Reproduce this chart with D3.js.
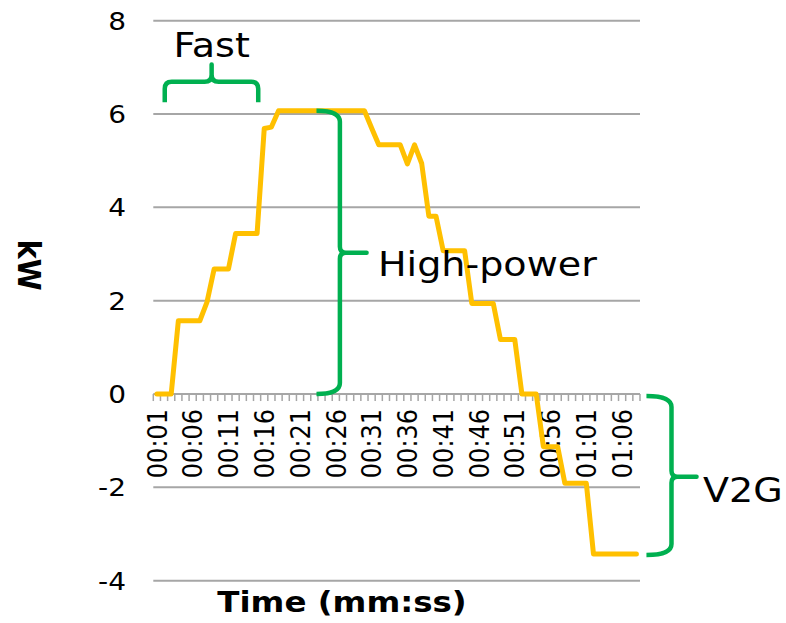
<!DOCTYPE html>
<html>
<head>
<meta charset="utf-8">
<script src="https://cdn.jsdelivr.net/npm/d3@7"></script>
<style>
  html, body { margin: 0; padding: 0; background: #ffffff; }
  svg { display: block; font-family: "DejaVu Sans", Verdana, sans-serif; }
</style>
</head>
<body>
<svg id="chart" width="786" height="623"></svg>
<script>
// One sample per second, 00:01 .. 01:08
const categories = [
  "00:01","00:02","00:03","00:04","00:05","00:06","00:07","00:08","00:09","00:10",
  "00:11","00:12","00:13","00:14","00:15","00:16","00:17","00:18","00:19","00:20",
  "00:21","00:22","00:23","00:24","00:25","00:26","00:27","00:28","00:29","00:30",
  "00:31","00:32","00:33","00:34","00:35","00:36","00:37","00:38","00:39","00:40",
  "00:41","00:42","00:43","00:44","00:45","00:46","00:47","00:48","00:49","00:50",
  "00:51","00:52","00:53","00:54","00:55","00:56","00:57","00:58","00:59","01:00",
  "01:01","01:02","01:03","01:04","01:05","01:06","01:07","01:08"
];

// Charging power in kW (negative = vehicle-to-grid discharge)
const powerKW = [
  0, 0, 0, 1.57, 1.57, 1.57, 1.57, 1.97, 2.68, 2.68,
  2.68, 3.44, 3.44, 3.44, 3.44, 5.69, 5.72, 6.07, 6.07, 6.07,
  6.07, 6.07, 6.07, 6.07, 6.07, 6.07, 6.07, 6.07, 6.07, 6.07,
  5.7, 5.34, 5.34, 5.34, 5.34, 4.93, 5.34, 4.94, 3.81, 3.81,
  3.07, 3.07, 3.07, 3.07, 1.94, 1.94, 1.94, 1.94, 1.17, 1.17,
  1.17, 0, 0, 0, -1.13, -1.13, -1.13, -1.91, -1.91, -1.91,
  -1.91, -3.43, -3.43, -3.43, -3.43, -3.43, -3.43, -3.43
];

const xTickLabels = ["00:01","00:06","00:11","00:16","00:21","00:26","00:31",
                     "00:36","00:41","00:46","00:51","00:56","01:01","01:06"];
const yTicks = [-4, -2, 0, 2, 4, 6, 8];

// Phase annotations
const phaseNames = ["Fast", "High-power", "V2G"];

const svg = d3.select("#chart");
const plotLeft = 153.3, plotRight = 640, plotTop = 20.7, plotBottom = 580.7;
const SX = 1.12;           // horizontal text stretch
const GRID = "#a6a6a6";
const GREEN = "#00b050";

const x = d3.scaleBand().domain(categories).range([plotLeft, plotRight]).padding(0);
const xu = d3.scaleLinear().domain([0, categories.length]).range([plotLeft, plotRight]); // category units
const y = d3.scaleLinear().domain([-4, 8]).range([plotBottom, plotTop]);
const cx = c => x(c) + x.bandwidth() / 2;

// Horizontal gridlines
svg.append("g").selectAll("line").data(yTicks).join("line")
  .attr("x1", plotLeft).attr("x2", plotRight)
  .attr("y1", d => y(d)).attr("y2", d => y(d))
  .attr("stroke", GRID).attr("stroke-width", 2);

// Y tick labels
svg.append("g").selectAll("text").data(yTicks).join("text")
  .attr("transform", d => `translate(126,${y(d)}) scale(${SX},1)`)
  .attr("dy", "0.36em")
  .attr("text-anchor", "end")
  .attr("font-size", 25)
  .attr("fill", "#000")
  .text(d => d);

// Category axis at zero with a tick between every category
const y0 = y(0);
svg.append("g").selectAll("line").data(d3.range(categories.length + 1)).join("line")
  .attr("x1", d => xu(d)).attr("x2", d => xu(d))
  .attr("y1", y0).attr("y2", y0 + 7)
  .attr("stroke", GRID).attr("stroke-width", 1.5);

// X tick labels, rotated
svg.append("g").selectAll("text").data(xTickLabels).join("text")
  .attr("transform", d => `translate(${cx(d)},409) scale(${SX},1) rotate(-90)`)
  .attr("dy", "0.36em")
  .attr("text-anchor", "end")
  .attr("font-size", 24)
  .attr("fill", "#000")
  .text(d => d);

// Power trace
const line = d3.line()
  .x((d, i) => cx(categories[i]))
  .y(d => y(d));
svg.append("path")
  .datum(powerKW)
  .attr("d", line)
  .attr("fill", "none")
  .attr("stroke", "#ffc000")
  .attr("stroke-width", 5)
  .attr("stroke-linejoin", "round")
  .attr("stroke-linecap", "round");

// Curly braces
function vBrace(x0, xv, xt, yT, yM, yB, r, rm) {
  const p = d3.path();
  p.moveTo(x0, yT);
  p.quadraticCurveTo(xv, yT, xv, yT + r);
  p.lineTo(xv, yM - rm);
  p.quadraticCurveTo(xv, yM, xv + rm, yM);
  p.lineTo(xt, yM);
  p.lineTo(xv + rm, yM);
  p.quadraticCurveTo(xv, yM, xv, yM + rm);
  p.lineTo(xv, yB - r);
  p.quadraticCurveTo(xv, yB, x0, yB);
  return p.toString();
}
function hBrace(xL, xM, xR, yLeg, yBar, yTip, r) {
  const p = d3.path();
  p.moveTo(xL, yLeg);
  p.lineTo(xL, yBar + r);
  p.quadraticCurveTo(xL, yBar, xL + r, yBar);
  p.lineTo(xM - r, yBar);
  p.quadraticCurveTo(xM, yBar, xM, yBar - r);
  p.lineTo(xM, yTip);
  p.lineTo(xM, yBar - r);
  p.quadraticCurveTo(xM, yBar, xM + r, yBar);
  p.lineTo(xR - r, yBar);
  p.quadraticCurveTo(xR, yBar, xR, yBar + r);
  p.lineTo(xR, yLeg);
  return p.toString();
}

const braces = svg.append("g")
  .attr("fill", "none").attr("stroke", GREEN).attr("stroke-width", 4.5)
  .attr("stroke-linejoin", "round").attr("stroke-linecap", "butt");

// Fast ramp-up
braces.append("path").attr("d",
  hBrace(xu(1.6), xu(8.15), xu(14.66), y(6.25), y(6.69), y(7.06), 7));
// High-power plateau
braces.append("path").attr("d",
  vBrace(xu(22.8), xu(26.07), xu(29.8), y(6.07), y(3.03), y(0), 11, 6));
// V2G discharge
braces.append("path").attr("d",
  vBrace(xu(68.9), xu(72.4), xu(75.9), y(-0.04), y(-1.77), y(-3.45), 11, 6));

const notes = svg.append("g").attr("font-size", 34).attr("fill", "#000");
notes.append("text")
  .attr("transform", `translate(${xu(8.15)},57) scale(${SX},1)`)
  .attr("text-anchor", "middle").text(phaseNames[0]);
notes.append("text")
  .attr("transform", `translate(378,276) scale(${SX},1)`)
  .text(phaseNames[1]);
notes.append("text")
  .attr("transform", `translate(703,502) scale(${SX},1)`)
  .text(phaseNames[2]);

// Axis titles
svg.append("text")
  .attr("transform", `translate(342,612) scale(${SX},1)`)
  .attr("text-anchor", "middle")
  .attr("font-size", 29).attr("font-weight", "bold")
  .text("Time (mm:ss)");
svg.append("text")
  .attr("transform", `translate(30,265) scale(${SX},1) rotate(90)`)
  .attr("text-anchor", "middle")
  .attr("dy", "0.36em")
  .attr("font-size", 29).attr("font-weight", "bold")
  .text("kW");
</script>
</body>
</html>
